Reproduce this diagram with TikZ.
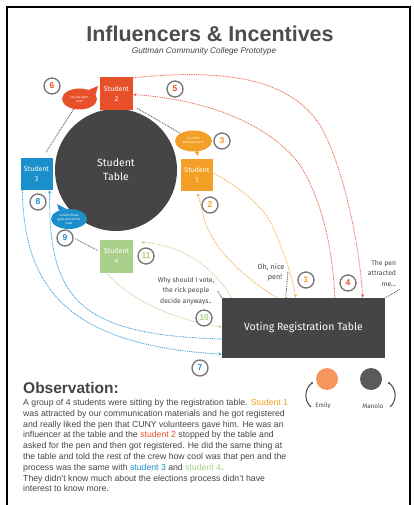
\documentclass[tikz,border=0pt]{standalone}
\usepackage{fontspec}
\setmainfont{Liberation Sans}
\newfontfamily\handfont{Fira Sans}
\usetikzlibrary{arrows.meta,backgrounds,shapes.geometric}

\definecolor{redS}{HTML}{E8502A}
\definecolor{orgS}{HTML}{F4A026}
\definecolor{bluS}{HTML}{1B8FCB}
\definecolor{grnS}{HTML}{A9D18B}
\definecolor{darkS}{HTML}{454545}
\definecolor{ringS}{HTML}{737373}
\definecolor{emilyS}{HTML}{F5965E}
\definecolor{manoloS}{HTML}{5A5A5A}
\definecolor{titleS}{HTML}{4D4D4D}
\definecolor{redL}{HTML}{E8674F}
\definecolor{orgL}{HTML}{F5B24E}
\definecolor{bluL}{HTML}{3C9FD6}
\definecolor{grnL}{HTML}{BBD997}

\tikzset{
  student/.style={rectangle, minimum width=32pt, minimum height=32pt, inner sep=0pt,
    text=white, align=center, font=\handfont\fontsize{7}{10}\selectfont},
  bubble/.style={ellipse, inner sep=0pt, text=white, align=center,
    font=\handfont\fontsize{3.2}{3.9}\selectfont},
  num/.style={circle, draw=ringS, line width=1.3pt, fill=white, minimum size=16pt,
    inner sep=0pt, font=\bfseries\fontsize{8.5}{8.5}\selectfont},
  flow/.style={line width=0.9pt, dash pattern=on 0.9pt off 0.9pt},
  tip/.style={-{Stealth[length=3.5pt,width=3.2pt]}},
  talk/.style={flow, draw=darkS!85},
  hand/.style={text=darkS, align=center, font=\handfont\fontsize{6.8}{10.5}\selectfont},
}

\begin{document}
\begin{tikzpicture}[x=1pt, y=-1pt]
\useasboundingbox (0,0) rectangle (413,505);
\draw[line width=1.2pt, black] (7,7) rectangle (410,520);

% heading
\node[anchor=base, text=titleS, font=\bfseries\fontsize{21.5}{22}\selectfont] (title) at (210,42) {Influencers \& Incentives};
\node[anchor=base, text=darkS, font=\itshape\fontsize{8.3}{9}\selectfont] (subtitle) at (204,54) {Guttman Community College Prototype};

% the student table and the four students
\node[circle, fill=darkS, minimum size=122pt, inner sep=0pt, text=white, align=center,
      font=\handfont\fontsize{10.5}{14}\selectfont] (stable) at (116,170) {Student\\Table};
\node[student, fill=redS, minimum width=33pt, minimum height=33pt] (s2) at (116.5,93.5) {Student\\2};
\node[student, fill=orgS] (s1) at (197,175) {Student\\1};
\node[student, fill=bluS] (s3) at (36.5,174) {Student\\3};
\node[student, fill=grnS, minimum width=33pt, minimum height=33pt] (s4) at (116.5,256) {Student\\4};

% speech bubbles
\node[bubble, fill=redS, minimum width=35pt, minimum height=21pt] (b6) at (79.5,99) {Do you want\\one?};
\fill[redS] (b6.45) -- (98,86) -- (b6.15) -- cycle;
\node[bubble, fill=orgS, minimum width=37pt, minimum height=21pt] (b3) at (193.5,141) {Isn't this\\awesome pen?};
\fill[orgS] (b3.-62) -- (198,156) -- (b3.-85) -- cycle;
\node[bubble, fill=bluS, minimum width=36pt, minimum height=20pt] (b9) at (69,219) {so with those\\guys and all the\\time};
\fill[bluS] (b9.105) -- (57,204) -- (b9.140) -- cycle;

% voting table
\node[rectangle, fill=darkS, minimum width=163pt, minimum height=60pt, inner sep=0pt, text=white,
      font=\handfont\fontsize{10.5}{12}\selectfont] (vrt) at (303.5,328) {Voting Registration Table};

% spoken lines
\node[hand, font=\handfont\fontsize{7.3}{10}\selectfont] (oh) at (271,272) {Oh, nice\\\hspace*{8pt}pen!};
\node[hand, align=right] (pen) at (382,273) {The pen\\attracted\\me...};
\node[hand] (why) at (186,291) {Why should I vote,\\the rick people\\decide anyways..};

% flows between students and tables
\begin{scope}[on background layer]
  % red: student 2
  \draw[flow, draw=redL, tip] ([yshift=-1pt]s2.north east) .. controls (230,68) and (290,80) .. (320,125)
        .. controls (340,160) and (358,230) .. ([xshift=141pt]vrt.north west);
  \draw[flow, draw=redL, tip] ([xshift=113pt]vrt.north west) .. controls (333,250) and (322,200) .. (300,165)
        .. controls (270,125) and (210,100) .. ([yshift=-1pt]s2.east);
  % orange: student 1
  \draw[flow, draw=orgL, tip] ([yshift=2pt]s1.east) .. controls (245,190) and (265,210) .. (272,225)
        .. controls (283,250) and (292,275) .. ([xshift=74pt]vrt.north west);
  \draw[flow, draw=orgL, tip, shorten >=2pt] ([xshift=55pt]vrt.north west) .. controls (240,275) and (210,245) .. (203,215)
        .. controls (201,205) and (199,198) .. (s1.south);
  % blue: student 3
  \draw[flow, draw=bluL, tip] ([xshift=2pt]s3.south west) .. controls (24,290) and (70,345) .. ([yshift=4pt]vrt.south west);
  \draw[flow, draw=bluL, tip] ([yshift=-11pt]vrt.west) .. controls (80,335) and (48,300) .. ([xshift=-3pt]s3.south east);
  % green: student 4
  \draw[flow, draw=grnL, tip] ([xshift=-10pt]s4.south) .. controls (125,295) and (165,318) .. ([yshift=1pt]vrt.west);
  \draw[flow, draw=grnL, tip] ([xshift=10pt]vrt.north west) .. controls (215,270) and (185,245) .. ([xshift=8pt,yshift=-3pt]s4.north east);
  % who is talking
  \draw[talk] ([xshift=4pt,yshift=2pt]s2.south east) -- (b3.150);
  \draw[talk, shorten >=6pt] (b6.240) -- (s3.70);
\end{scope}

% step numbers
\node[num, text=orgS] (n1) at (306,280) {1};
\node[num, text=orgS] (n2) at (210,205) {2};
\node[num, text=orgS] (n3) at (222,141) {3};
\node[num, text=redS] (n4) at (348,283) {4};
\node[num, text=redS] (n5) at (175,89) {5};
\node[num, text=redS] (n6) at (52,86) {6};
\node[num, text=bluS] (n7) at (200,368) {7};
\node[num, text=bluS] (n8) at (38,202) {8};
\node[num, text=bluS] (n9) at (65,238) {9};
\node[num, text=grnS] (n10) at (204,318) {10};
\node[num, text=grnS] (n11) at (146,256) {11};

\draw[talk, shorten <=2pt, shorten >=2pt] (n9.east) -- (s4.165);
\draw[talk] (oh.east) -- ([xshift=64pt]vrt.north west);
\draw[talk] (pen.south east) -- (vrt.north east);
\draw[talk] (why.east) -- (vrt.north west);

% facilitators
\node[circle, fill=emilyS, minimum size=22pt, inner sep=0pt] (emily) at (327,379) {};
\node[circle, fill=manoloS, minimum size=22pt, inner sep=0pt] (manolo) at (371,379) {};
\node[hand, font=\handfont\fontsize{6.3}{7}\selectfont] (emilyl) at (323,406) {Emily};
\node[hand, font=\handfont\fontsize{6.3}{7}\selectfont] (manolol) at (373,406) {Manolo};
\fill[darkS] (312,383) circle (1.2pt) (389,383) circle (1.2pt);
\draw[darkS, line width=1pt] (312,383) .. controls (304,389) and (304,401) .. (311,407);
\draw[darkS, line width=1pt] (389,383) .. controls (397,389) and (397,401) .. (390,407);

% observation
\node[anchor=base west, inner sep=0pt, text=darkS, font=\bfseries\fontsize{15.5}{16}\selectfont] (obs) at (23,393) {Observation:};
\node[anchor=north west, inner sep=0pt, align=left, text=darkS, font=\fontsize{8.7}{10.8}\selectfont] (para) at (23,399) {%
A group of 4 students were sitting by the registration table. {\color{orgS}Student 1}\\
was attracted by our communication materials and he got registered\\
and really liked the pen that CUNY volunteers gave him. He was an\\
influencer at the table and the {\color{redS}student 2} stopped by the table and\\
asked for the pen and then got registered. He did the same thing at\\
the table and told the rest of the crew how cool was that pen and the\\
process was the same with {\color{bluS}student 3} and {\color{grnS}student 4}.\\
They didn't know much about the elections process didn't have\\
interest to know more.};
\end{tikzpicture}
\end{document}
